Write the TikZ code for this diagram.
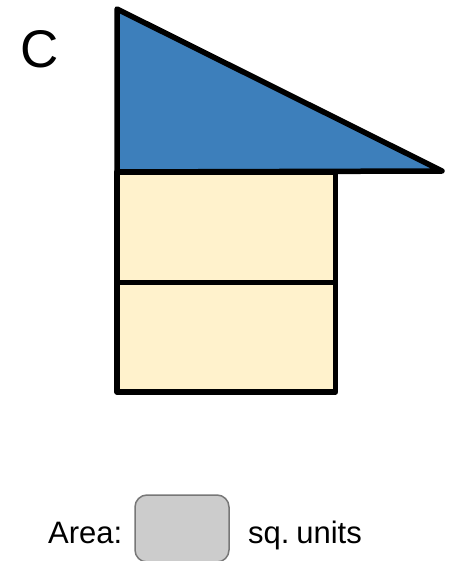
\documentclass[tikz,border=0pt]{standalone}
\usepackage{fontspec}
\setmainfont{Liberation Sans}
\definecolor{triblue}{HTML}{3D7FBB}
\definecolor{rectyellow}{HTML}{FFF2CC}
\definecolor{boxgray}{HTML}{CCCCCC}
\definecolor{boxedge}{HTML}{777777}
\begin{document}
\begin{tikzpicture}[x=1pt,y=-1pt,
  shape edge/.style={draw=black,line width=5.5pt,line join=round},
  label text/.style={font=\fontsize{31}{36}\selectfont,anchor=base west,inner sep=0pt}]
\useasboundingbox (0,0) rectangle (448,561);
\fill[white] (0,0) rectangle (448,561);
% rectangles
\draw[shape edge,fill=rectyellow] (117,172) rectangle (335.5,282.5);
\draw[shape edge,fill=rectyellow] (117,282.5) rectangle (335.5,392);
% triangle
\draw[shape edge,fill=triblue] (117,9) -- (442,171) -- (117,172) -- cycle;
% label
\node[font=\fontsize{53}{60}\selectfont,inner sep=0pt] (lbl) at (40,49) {C};
% answer line
\node[label text] (area) at (48,543) {Area:};
\draw[boxedge,fill=boxgray,line width=1.5pt,rounded corners=12pt] (135,495) rectangle (229,562);
\node[label text] (units) at (248,543) {sq.\hspace{0.22em}units};
\end{tikzpicture}
\end{document}
